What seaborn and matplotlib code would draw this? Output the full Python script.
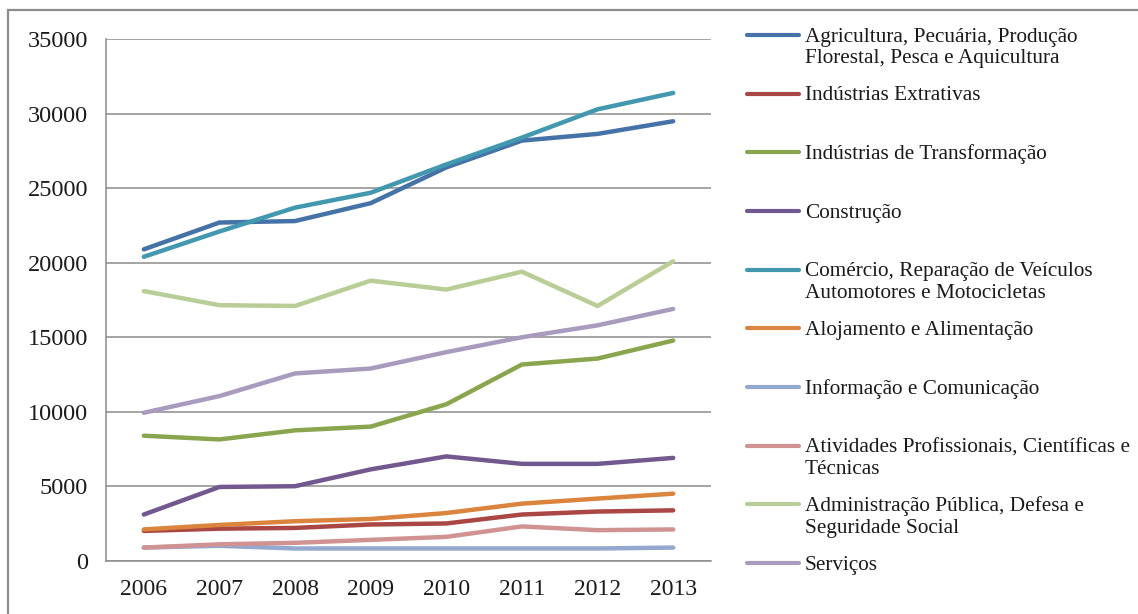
import matplotlib
matplotlib.use("Agg")
import matplotlib.pyplot as plt
from matplotlib.lines import Line2D
from matplotlib.patches import Rectangle
from matplotlib.ticker import FixedLocator, NullFormatter
import seaborn as sns
import pandas as pd

# ---- data ----
years = ["2006", "2007", "2008", "2009", "2010", "2011", "2012", "2013"]

agricultura = [20900, 22700, 22800, 24000, 26400, 28200, 28650, 29500]
extrativas = [2000, 2150, 2200, 2430, 2500, 3100, 3300, 3380]
transformacao = [8390, 8140, 8750, 9000, 10500, 13170, 13570, 14780]
construcao = [3100, 4950, 5000, 6130, 7000, 6500, 6500, 6900]
comercio = [20400, 22100, 23700, 24700, 26600, 28400, 30300, 31400]
alojamento = [2100, 2400, 2650, 2800, 3200, 3830, 4170, 4500]
informacao = [880, 1000, 820, 820, 820, 820, 820, 880]
atividades = [880, 1100, 1200, 1400, 1600, 2300, 2050, 2100]
administracao = [18100, 17150, 17100, 18800, 18200, 19400, 17100, 20100]
servicos = [9930, 11050, 12570, 12900, 14000, 15000, 15800, 16900]

series_labels = [
    ["Agricultura, Pecuária, Produção", "Florestal, Pesca e Aquicultura"],
    ["Indústrias Extrativas"],
    ["Indústrias de Transformação"],
    ["Construção"],
    ["Comércio, Reparação de Veículos", "Automotores e Motocicletas"],
    ["Alojamento e Alimentação"],
    ["Informação e Comunicação"],
    ["Atividades Profissionais, Científicas e", "Técnicas"],
    ["Administração Pública, Defesa e", "Seguridade Social"],
    ["Serviços"],
]
series_values = [agricultura, extrativas, transformacao, construcao, comercio,
                 alojamento, informacao, atividades, administracao, servicos]
colors = ["#4572A7", "#AA4643", "#89A54E", "#71588F", "#4198AF",
          "#DB843D", "#93A9CF", "#D19392", "#B9CD96", "#A99BBD"]

names = [" ".join(l) for l in series_labels]
rows = []
for name, vals in zip(names, series_values):
    for i, (yr, v) in enumerate(zip(years, vals)):
        rows.append({"serie": name, "pos": i, "ano": yr, "valor": v})
df = pd.DataFrame(rows)

# ---- figure ----
W, H = 1138, 614
sns.set_style("white")
plt.rcParams["font.family"] = ["Liberation Serif", "DejaVu Serif"]
fig = plt.figure(figsize=(W / 100, H / 100), dpi=100)

def fx(px):
    return px / W

def fy(py):
    return 1 - py / H

left, right, top, bottom = 106, 711, 39.3, 560.7
ax = fig.add_axes([fx(left), fy(bottom), fx(right - left), (bottom - top) / H])

sns.lineplot(data=df, x="pos", y="valor", hue="serie", hue_order=names,
             palette=colors, sort=False, linewidth=3.2, legend=False, ax=ax,
             solid_capstyle="round", solid_joinstyle="round")

ax.set_xlim(-0.5, len(years) - 0.5)
ax.set_ylim(0, 35000)
ax.set_xlabel("")
ax.set_ylabel("")

grid_c = "#8c8c8c"
ax.set_yticks(range(0, 35001, 5000))
ax.set_yticklabels([str(v) for v in range(0, 35001, 5000)])
ax.yaxis.grid(True, color=grid_c, linewidth=1.1)
ax.set_axisbelow(True)

ax.set_xticks(range(len(years)))
ax.set_xticklabels(years)
ax.xaxis.set_minor_locator(FixedLocator([i - 0.5 for i in range(len(years) + 1)]))
ax.xaxis.set_minor_formatter(NullFormatter())
ax.tick_params(axis="x", which="major", length=0, pad=13, labelsize=17,
               labelcolor="#1a1a1a")
ax.tick_params(axis="x", which="minor", length=9, width=1.1, color=grid_c,
               direction="out")
ax.tick_params(axis="y", length=6, width=1.1, color=grid_c, direction="out",
               pad=7, labelsize=17.5, labelcolor="#1a1a1a")

for s in ["top", "right"]:
    ax.spines[s].set_visible(False)
for s in ["left", "bottom"]:
    ax.spines[s].set_color(grid_c)
    ax.spines[s].set_linewidth(1.1)

# ---- legend on the right ----
leg_y0, leg_dy = 35, 58.67
for i, (lines, c) in enumerate(zip(series_labels, colors)):
    yc = leg_y0 + i * leg_dy
    fig.add_artist(Line2D([fx(747), fx(799)], [fy(yc), fy(yc)], color=c,
                          linewidth=3.0, solid_capstyle="round",
                          transform=fig.transFigure))
    for j, txt in enumerate(lines):
        fig.text(fx(805), fy(yc + 6.7 + j * 21.7), txt, fontsize=15.3,
                 color="#1a1a1a", va="baseline", ha="left")

# outer frame of the chart area
fig.add_artist(Rectangle((fx(8), fy(H + 20)), 1.2, fy(10) - fy(H + 20),
                         transform=fig.transFigure, fill=False,
                         edgecolor="#8c8c8c", linewidth=1.6, clip_on=False))

fig.savefig("out.png", dpi=100)
